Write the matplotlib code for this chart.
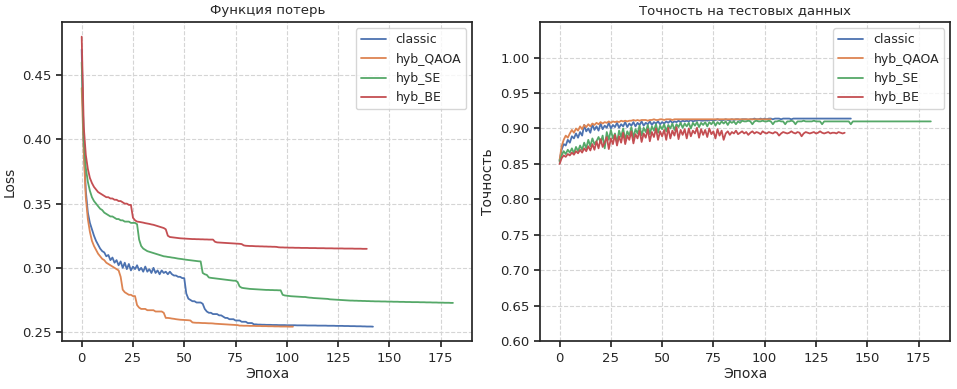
import matplotlib.pyplot as plt
import seaborn as sns

# loss per epoch
classic_loss = [
    0.470, 0.395, 0.360, 0.343, 0.335, 0.330, 0.325, 0.321, 0.318, 0.315,
    0.313, 0.312, 0.309, 0.310, 0.306, 0.308, 0.304, 0.306, 0.302, 0.305,
    0.300, 0.304, 0.299, 0.303, 0.298, 0.301, 0.299, 0.302, 0.298, 0.300,
    0.297, 0.301, 0.297, 0.299, 0.296, 0.300, 0.296, 0.298, 0.295, 0.298,
    0.296, 0.297, 0.295, 0.297, 0.295, 0.294, 0.294, 0.293, 0.293, 0.292,
    0.292, 0.280, 0.276, 0.275, 0.274, 0.274, 0.273, 0.273, 0.273, 0.272,
    0.268, 0.266, 0.265, 0.265, 0.264, 0.264, 0.264, 0.263, 0.263, 0.262,
    0.261, 0.261, 0.260, 0.260, 0.260, 0.259, 0.259, 0.259, 0.258, 0.258,
    0.258, 0.257, 0.257, 0.257, 0.256, 0.2560, 0.2558, 0.2558, 0.2557, 0.2557,
    0.2556, 0.2556, 0.2556, 0.2555, 0.2555, 0.2555, 0.2554, 0.2554, 0.2554, 0.2554,
    0.2553, 0.2553, 0.2553, 0.2553, 0.2553, 0.2552, 0.2552, 0.2552, 0.2552, 0.2552,
    0.2551, 0.2551, 0.2551, 0.2551, 0.2551, 0.2550, 0.2550, 0.2550, 0.2550, 0.2550,
    0.2549, 0.2549, 0.2549, 0.2549, 0.2548, 0.2548, 0.2548, 0.2548, 0.2547, 0.2547,
    0.2547, 0.2546, 0.2546, 0.2546, 0.2545, 0.2545, 0.2545, 0.2544, 0.2544, 0.2543,
    0.2543, 0.2543, 0.2542,
]
qaoa_loss = [
    0.440, 0.390, 0.355, 0.338, 0.328, 0.321, 0.317, 0.314, 0.311, 0.309,
    0.307, 0.306, 0.304, 0.303, 0.302, 0.301, 0.300, 0.299, 0.298, 0.293,
    0.283, 0.281, 0.280, 0.279, 0.279, 0.278, 0.278, 0.271, 0.269, 0.268,
    0.268, 0.268, 0.267, 0.267, 0.267, 0.267, 0.266, 0.266, 0.266, 0.266,
    0.265, 0.261, 0.261, 0.2608, 0.2605, 0.2603, 0.2600, 0.2598, 0.2596, 0.2595,
    0.2594, 0.2593, 0.2592, 0.2590, 0.2575, 0.2573, 0.2572, 0.2572, 0.2571, 0.2570,
    0.2570, 0.2569, 0.2568, 0.2568, 0.2567, 0.2565, 0.2564, 0.2563, 0.2562, 0.2561,
    0.2560, 0.2559, 0.2558, 0.2557, 0.2556, 0.2555, 0.2554, 0.2550, 0.2550, 0.2549,
    0.2549, 0.2549, 0.2548, 0.2548, 0.2548, 0.2547, 0.2547, 0.2547, 0.2546, 0.2546,
    0.2546, 0.2545, 0.2545, 0.2545, 0.2544, 0.2544, 0.2544, 0.2543, 0.2543, 0.2543,
    0.2543, 0.2542, 0.2542, 0.2542,
]
se_loss = [
    0.460, 0.400, 0.378, 0.367, 0.360, 0.355, 0.352, 0.350, 0.348, 0.346,
    0.345, 0.343, 0.342, 0.341, 0.340, 0.340, 0.339, 0.338, 0.338, 0.337,
    0.337, 0.336, 0.336, 0.336, 0.335, 0.335, 0.335, 0.334, 0.322, 0.317,
    0.315, 0.314, 0.313, 0.3125, 0.312, 0.3115, 0.311, 0.3105, 0.310, 0.3095,
    0.309, 0.3088, 0.3085, 0.3083, 0.3080, 0.3078, 0.3075, 0.3072, 0.3070, 0.3068,
    0.3065, 0.3063, 0.3061, 0.3059, 0.3057, 0.3055, 0.3053, 0.3051, 0.3050, 0.296,
    0.295, 0.2945, 0.2925, 0.2922, 0.2920, 0.2918, 0.2916, 0.2914, 0.2912, 0.2910,
    0.2908, 0.2906, 0.2904, 0.2902, 0.2900, 0.2900, 0.2890, 0.2855, 0.2845, 0.2842,
    0.2840, 0.2838, 0.2836, 0.2835, 0.2834, 0.2833, 0.2832, 0.2831, 0.2830, 0.2829,
    0.2828, 0.2828, 0.2827, 0.2827, 0.2826, 0.2826, 0.2825, 0.2825, 0.2790, 0.2785,
    0.2783, 0.2781, 0.2779, 0.2778, 0.2777, 0.2776, 0.2775, 0.2774, 0.2773, 0.2773,
    0.2770, 0.2768, 0.2767, 0.2765, 0.2764, 0.2763, 0.2762, 0.2761, 0.2760, 0.2759,
    0.2758, 0.2755, 0.2754, 0.2753, 0.2752, 0.2751, 0.2750, 0.2749, 0.2748, 0.2747,
    0.2746, 0.2745, 0.2745, 0.2744, 0.2744, 0.2743, 0.2743, 0.2742, 0.2742, 0.2741,
    0.2741, 0.2740, 0.2740, 0.2739, 0.2739, 0.2739, 0.2738, 0.2738, 0.2738, 0.2737,
    0.2737, 0.2737, 0.2736, 0.2736, 0.2736, 0.2735, 0.2735, 0.2735, 0.2734, 0.2734,
    0.2734, 0.2733, 0.2733, 0.2733, 0.2733, 0.2732, 0.2732, 0.2732, 0.2731, 0.2731,
    0.2731, 0.2730, 0.2730, 0.2730, 0.2729, 0.2729, 0.2729, 0.2728, 0.2728, 0.2728,
    0.2727, 0.2727,
]
be_loss = [
    0.480, 0.410, 0.388, 0.377, 0.370, 0.366, 0.363, 0.361, 0.359, 0.358,
    0.357, 0.356, 0.355, 0.355, 0.354, 0.354, 0.353, 0.353, 0.352, 0.352,
    0.351, 0.350, 0.350, 0.349, 0.349, 0.339, 0.337, 0.336, 0.3358, 0.3355,
    0.3352, 0.3348, 0.3345, 0.3342, 0.3338, 0.3335, 0.3330, 0.3325, 0.3320, 0.3315,
    0.3310, 0.3300, 0.3250, 0.3240, 0.3238, 0.3236, 0.3234, 0.3232, 0.3230, 0.3229,
    0.3228, 0.3227, 0.3226, 0.3225, 0.3224, 0.3224, 0.3223, 0.3223, 0.3222, 0.3222,
    0.3221, 0.3221, 0.3220, 0.3220, 0.3220, 0.3203, 0.3198, 0.3197, 0.3196, 0.3195,
    0.3194, 0.3193, 0.3192, 0.3191, 0.3190, 0.3189, 0.3188, 0.3187, 0.3185, 0.3175,
    0.3172, 0.3171, 0.3170, 0.3170, 0.3169, 0.3168, 0.3168, 0.3167, 0.3167, 0.3166,
    0.3166, 0.3165, 0.3165, 0.3164, 0.3164, 0.3163, 0.3160, 0.3159, 0.3159, 0.3158,
    0.3158, 0.3157, 0.3157, 0.3157, 0.3156, 0.3156, 0.3156, 0.3155, 0.3155, 0.3155,
    0.3155, 0.3154, 0.3154, 0.3154, 0.3154, 0.3153, 0.3153, 0.3153, 0.3153, 0.3152,
    0.3152, 0.3152, 0.3152, 0.3151, 0.3151, 0.3151, 0.3151, 0.3151, 0.3150, 0.3150,
    0.3150, 0.3150, 0.3150, 0.3149, 0.3149, 0.3149, 0.3149, 0.3148, 0.3148, 0.3148,
]

# test accuracy per epoch
classic_acc = [
    0.855, 0.870, 0.878, 0.876, 0.884, 0.880, 0.889, 0.886, 0.893, 0.887,
    0.895, 0.890, 0.905, 0.896, 0.900, 0.894, 0.906, 0.898, 0.903, 0.897,
    0.907, 0.899, 0.904, 0.901, 0.908, 0.900, 0.905, 0.902, 0.908, 0.901,
    0.906, 0.903, 0.909, 0.902, 0.907, 0.904, 0.909, 0.903, 0.908, 0.905,
    0.910, 0.904, 0.908, 0.906, 0.910, 0.905, 0.909, 0.907, 0.910, 0.906,
    0.909, 0.907, 0.910, 0.908, 0.911, 0.908, 0.910, 0.909, 0.911, 0.909,
    0.911, 0.910, 0.911, 0.910, 0.912, 0.910, 0.911, 0.911, 0.912, 0.911,
    0.911, 0.912, 0.911, 0.912, 0.912, 0.911, 0.912, 0.913, 0.912, 0.912,
    0.912, 0.913, 0.912, 0.912, 0.913, 0.912, 0.913, 0.913, 0.912, 0.913,
    0.913, 0.913, 0.912, 0.913, 0.913, 0.914, 0.913, 0.913, 0.914, 0.913,
    0.914, 0.913, 0.914, 0.914, 0.913, 0.914, 0.914, 0.914, 0.913, 0.914,
    0.914, 0.914, 0.914, 0.913, 0.914, 0.914, 0.914, 0.914, 0.914, 0.914,
    0.914, 0.914, 0.914, 0.914, 0.914, 0.914, 0.914, 0.914, 0.914, 0.914,
    0.914, 0.914, 0.914, 0.914, 0.914, 0.914, 0.914, 0.914, 0.914, 0.914,
    0.914, 0.914, 0.914,
]
qaoa_acc = [
    0.855, 0.875, 0.884, 0.890, 0.887, 0.893, 0.898, 0.894, 0.900, 0.897,
    0.903, 0.899, 0.905, 0.902, 0.906, 0.903, 0.907, 0.905, 0.908, 0.906,
    0.909, 0.907, 0.909, 0.908, 0.910, 0.908, 0.910, 0.909, 0.910, 0.909,
    0.911, 0.910, 0.911, 0.910, 0.911, 0.911, 0.912, 0.911, 0.912, 0.911,
    0.912, 0.912, 0.912, 0.911, 0.912, 0.912, 0.913, 0.912, 0.912, 0.913,
    0.913, 0.912, 0.913, 0.913, 0.913, 0.912, 0.913, 0.913, 0.913, 0.913,
    0.913, 0.913, 0.913, 0.913, 0.913, 0.913, 0.913, 0.913, 0.913, 0.913,
    0.913, 0.913, 0.913, 0.913, 0.913, 0.913, 0.913, 0.913, 0.913, 0.913,
    0.913, 0.913, 0.913, 0.913, 0.913, 0.913, 0.913, 0.913, 0.913, 0.913,
    0.913, 0.913, 0.913, 0.913, 0.913, 0.913, 0.913, 0.913, 0.913, 0.913,
    0.913, 0.913, 0.913, 0.913,
]
se_acc = [
    0.853, 0.862, 0.868, 0.864, 0.870, 0.866, 0.872, 0.865, 0.874, 0.868,
    0.876, 0.870, 0.880, 0.872, 0.884, 0.875, 0.886, 0.878, 0.882, 0.888,
    0.880, 0.890, 0.872, 0.895, 0.884, 0.898, 0.886, 0.893, 0.880, 0.897,
    0.888, 0.900, 0.884, 0.896, 0.890, 0.902, 0.887, 0.899, 0.893, 0.904,
    0.890, 0.901, 0.895, 0.905, 0.892, 0.903, 0.897, 0.906, 0.894, 0.904,
    0.899, 0.906, 0.896, 0.905, 0.900, 0.907, 0.898, 0.906, 0.902, 0.908,
    0.901, 0.907, 0.903, 0.908, 0.900, 0.908, 0.904, 0.909, 0.902, 0.908,
    0.905, 0.909, 0.903, 0.909, 0.906, 0.910, 0.904, 0.909, 0.906, 0.910,
    0.907, 0.910, 0.905, 0.910, 0.908, 0.910, 0.906, 0.910, 0.908, 0.911,
    0.910, 0.910, 0.911, 0.910, 0.906, 0.910, 0.911, 0.910, 0.910, 0.911,
    0.910, 0.910, 0.911, 0.910, 0.906, 0.910, 0.910, 0.911, 0.910, 0.910,
    0.906, 0.910, 0.910, 0.911, 0.910, 0.906, 0.910, 0.910, 0.910, 0.911,
    0.910, 0.910, 0.910, 0.910, 0.911, 0.910, 0.910, 0.910, 0.906, 0.910,
    0.910, 0.910, 0.910, 0.910, 0.910, 0.910, 0.910, 0.910, 0.910, 0.910,
    0.910, 0.910, 0.906, 0.910, 0.910, 0.910, 0.910, 0.910, 0.910, 0.910,
    0.910, 0.910, 0.910, 0.910, 0.910, 0.910, 0.910, 0.910, 0.910, 0.910,
    0.910, 0.910, 0.910, 0.910, 0.910, 0.910, 0.910, 0.910, 0.910, 0.910,
    0.910, 0.910, 0.910, 0.910, 0.910, 0.910, 0.910, 0.910, 0.910, 0.910,
    0.910, 0.910,
]
be_acc = [
    0.850, 0.858, 0.862, 0.860, 0.864, 0.862, 0.866, 0.863, 0.868, 0.865,
    0.870, 0.866, 0.872, 0.868, 0.875, 0.869, 0.878, 0.870, 0.882, 0.872,
    0.885, 0.874, 0.880, 0.888, 0.871, 0.886, 0.878, 0.891, 0.876, 0.889,
    0.880, 0.894, 0.878, 0.890, 0.884, 0.896, 0.879, 0.892, 0.886, 0.897,
    0.881, 0.893, 0.887, 0.899, 0.882, 0.895, 0.888, 0.900, 0.884, 0.896,
    0.889, 0.898, 0.884, 0.901, 0.886, 0.897, 0.890, 0.902, 0.885, 0.898,
    0.891, 0.899, 0.886, 0.900, 0.889, 0.897, 0.893, 0.901, 0.887, 0.899,
    0.891, 0.898, 0.888, 0.900, 0.892, 0.896, 0.886, 0.899, 0.890, 0.897,
    0.884, 0.893, 0.896, 0.891, 0.895, 0.893, 0.897, 0.892, 0.894, 0.896,
    0.893, 0.895, 0.891, 0.894, 0.896, 0.893, 0.895, 0.894, 0.892, 0.896,
    0.894, 0.893, 0.895, 0.894, 0.893, 0.895, 0.894, 0.890, 0.893, 0.895,
    0.894, 0.893, 0.894, 0.896, 0.894, 0.893, 0.895, 0.894, 0.889, 0.893,
    0.895, 0.894, 0.893, 0.894, 0.895, 0.893, 0.894, 0.896, 0.894, 0.893,
    0.894, 0.895, 0.893, 0.894, 0.894, 0.893, 0.895, 0.894, 0.893, 0.894,
]

labels = ['classic', 'hyb_QAOA', 'hyb_SE', 'hyb_BE']
losses = [classic_loss, qaoa_loss, se_loss, be_loss]
accs = [classic_acc, qaoa_acc, se_acc, be_acc]
acc_ticks = [0.60, 0.65, 0.70, 0.75, 0.80, 0.85, 0.90, 0.95, 1.00]

sns.set_theme(style='ticks', palette='deep')
plt.rcParams['font.family'] = ['DejaVu Sans']

fig, (ax1, ax2) = plt.subplots(1, 2, figsize=(9.57, 3.89), dpi=100)
fig.subplots_adjust(left=0.065, right=0.993, bottom=0.123, top=0.943, wspace=0.165)

for lab, y in zip(labels, losses):
    ax1.plot(range(len(y)), y, label=lab, linewidth=1.3)
ax1.set_title('Функция потерь', fontsize=9.5)
ax1.set_xlabel('Эпоха', fontsize=10, labelpad=2)
ax1.set_ylabel('Loss', fontsize=10)

for lab, y in zip(labels, accs):
    ax2.plot(range(len(y)), y, label=lab, linewidth=1.3)
ax2.set_title('Точность на тестовых данных', fontsize=9.5)
ax2.set_xlabel('Эпоха', fontsize=10, labelpad=2)
ax2.set_ylabel('Точность', fontsize=10)
ax2.set_ylim(0.6, 1.05)
ax2.set_yticks(acc_ticks)
ax2.set_yticklabels([f'{t:.2f}' for t in acc_ticks])

for ax in (ax1, ax2):
    ax.set_xlim(-9.5, 190.5)
    ax.set_xticks(range(0, 176, 25))
    ax.tick_params(labelsize=9.5, length=4)
    ax.grid(True, linestyle='--', color='#d5d5d5', linewidth=0.8)
    ax.legend(loc='upper right', fontsize=9)

plt.savefig('out.png', dpi=100)
